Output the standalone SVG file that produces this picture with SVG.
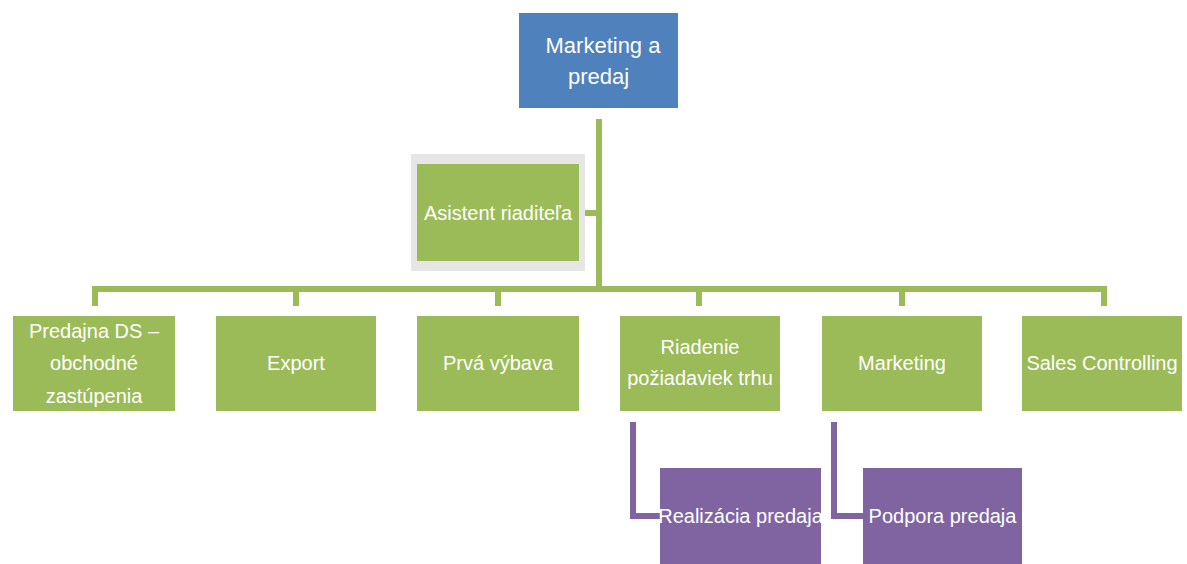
<svg xmlns="http://www.w3.org/2000/svg" width="1187" height="564" viewBox="0 0 1187 564">
  <style>
    .blue { fill: #4f81bd; }
    .green { fill: #9bbb59; }
    .purple { fill: #8064a2; }
    .frame { fill: #e6e6e6; }
    .lbl { fill: #ffffff; font-family: "Liberation Sans", Arial, sans-serif; font-size: 20px; text-anchor: middle; dominant-baseline: central; }
    .big { font-size: 22px; }
    .gline { fill: none; stroke: #9bbb59; stroke-width: 6; }
    .pline { fill: none; stroke: #8064a2; stroke-width: 6; }
  </style>

  <g id="connectors">
    <path class="gline" d="M599 119 V289"/>
    <path class="gline" d="M585 213 H599"/>
    <path class="gline" d="M95 306 V289 H1104 V306"/>
    <path class="gline" d="M296 289 V306"/>
    <path class="gline" d="M498 289 V306"/>
    <path class="gline" d="M699 289 V306"/>
    <path class="gline" d="M902 289 V306"/>
    <path class="pline" d="M633 422 V516 H660"/>
    <path class="pline" d="M834 422 V516 H863"/>
  </g>

  <g id="marketing-a-predaj">
    <rect class="blue" x="519" y="13" width="159" height="95"/>
    <text class="lbl big" x="603" y="45">Marketing a</text>
    <text class="lbl big" x="598.5" y="76">predaj</text>
  </g>

  <g id="asistent-riaditela">
    <rect class="frame" x="411" y="154" width="174" height="117"/>
    <rect class="green" x="417" y="164" width="162" height="97"/>
    <text class="lbl" x="498" y="213">Asistent riaditeľa</text>
  </g>

  <g id="predajna-ds">
    <rect class="green" x="13" y="316" width="162" height="95"/>
    <text class="lbl" x="94" y="331">Predajna DS –</text>
    <text class="lbl" x="94" y="363">obchodné</text>
    <text class="lbl" x="94" y="396">zastúpenia</text>
  </g>

  <g id="export">
    <rect class="green" x="216" y="316" width="160" height="95"/>
    <text class="lbl" x="296" y="363">Export</text>
  </g>

  <g id="prva-vybava">
    <rect class="green" x="417" y="316" width="162" height="95"/>
    <text class="lbl" x="498" y="363">Prvá výbava</text>
  </g>

  <g id="riadenie-poziadaviek-trhu">
    <rect class="green" x="620" y="316" width="160" height="95"/>
    <text class="lbl" x="700" y="347">Riadenie</text>
    <text class="lbl" x="700" y="378">požiadaviek trhu</text>
  </g>

  <g id="marketing">
    <rect class="green" x="822" y="316" width="160" height="95"/>
    <text class="lbl" x="902" y="363">Marketing</text>
  </g>

  <g id="sales-controlling">
    <rect class="green" x="1022" y="316" width="160" height="95"/>
    <text class="lbl" x="1102" y="363">Sales Controlling</text>
  </g>

  <g id="realizacia-predaja">
    <rect class="purple" x="660" y="468" width="161" height="96"/>
    <text class="lbl" x="740.5" y="516">Realizácia predaja</text>
  </g>

  <g id="podpora-predaja">
    <rect class="purple" x="863" y="468" width="159" height="96"/>
    <text class="lbl" x="942.5" y="516">Podpora predaja</text>
  </g>
</svg>
